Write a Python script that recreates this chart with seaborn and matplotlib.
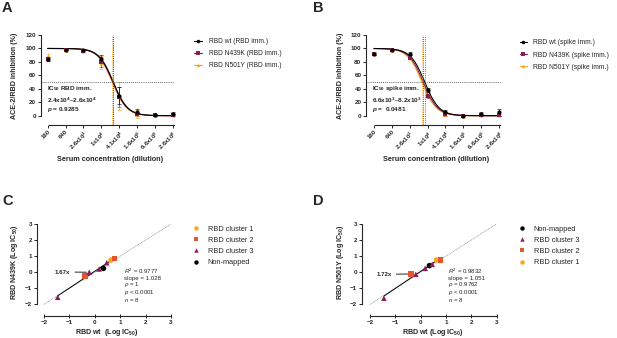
import numpy as np
import pandas as pd
import seaborn as sns
import matplotlib.pyplot as plt
from matplotlib.lines import Line2D

# === Panels A and B: serum dilution series ===
dilutions = [160, 640, 2560, 10240, 40960, 163840, 655360, 2621440]
dil_labels = ['160', '640', '2.6x10$^3$', '1x10$^4$', '4.1x10$^4$',
              '1.6x10$^5$', '6.6x10$^5$', '2.6x10$^6$']

a_wt = [85, 98, 97, 84, 30, 6, 1, 3]
a_wt_sd = [3, 1, 1, 6, 12, 4, 1, 2]
a_n439k = [84, 98, 96, 80, 28, 3, 1, 1]
a_n439k_sd = [3, 1, 1, 7, 15, 3, 1, 2]
a_n501y = [89, 98, 96, 79, 29, 3, 1, 1]
a_n501y_sd = [3, 1, 2, 10, 21, 6, 1, 2]

b_wt = [92, 98, 92, 38, 6, 0, 3, 5]
b_wt_sd = [2, 1, 2, 3, 2, 1, 2, 5]
b_n439k = [92, 98, 86, 30, 2, 0, 1, 1]
b_n439k_sd = [1, 1, 2, 4, 2, 1, 2, 1]
b_n501y = [92, 98, 88, 33, 2, 0, 1, 1]
b_n501y_sd = [1, 1, 2, 4, 2, 1, 2, 1]

# fitted IC50s (dilution) and hill slope
a_ic50 = {'wt': 2.6e4, 'N439K': 2.5e4, 'N501Y': 2.4e4}
b_ic50 = {'wt': 8.2e3, 'N439K': 7.3e3, 'N501Y': 6.6e3}
hill = 1.8

# === Panels C and D: log IC50 comparison ===
c_cluster = ['RBD cluster 3', 'RBD cluster 2', 'RBD cluster 3', 'RBD cluster 3',
             'Non-mapped', 'RBD cluster 3', 'RBD cluster 1', 'RBD cluster 2']
c_wt = [-1.46, -0.39, -0.22, 0.17, 0.34, 0.47, 0.64, 0.77]
c_n439k = [-1.56, -0.24, 0.0, 0.2, 0.24, 0.59, 0.76, 0.84]
d_wt = [-1.45, -0.39, -0.19, 0.18, 0.35, 0.46, 0.63, 0.79]
d_n501y = [-1.62, -0.11, -0.13, 0.24, 0.41, 0.49, 0.76, 0.76]

c_stats = ['$\\mathit{R}^{\\mathrm{2}}$ = 0.9777', 'slope = 1.028', '$\\mathit{\\rho}$ = 1',
           '$\\mathit{p}$ < 0.0001', '$\\mathit{n}$ = 8']
d_stats = ['$\\mathit{R}^{\\mathrm{2}}$ = 0.9832', 'slope = 1.051', '$\\mathit{\\rho}$ = 0.9762',
           '$\\mathit{p}$ < 0.0001', '$\\mathit{n}$ = 8']

# === Style ===
sns.set_style('ticks')
plt.rcParams['font.family'] = ['Liberation Sans', 'DejaVu Sans']
plt.rcParams['mathtext.fontset'] = 'custom'
plt.rcParams['mathtext.rm'] = 'Liberation Sans'
plt.rcParams['mathtext.it'] = 'Liberation Sans:italic'
plt.rcParams['mathtext.bf'] = 'Liberation Sans:bold'
plt.rcParams['mathtext.bfit'] = 'Liberation Sans:italic:bold'
plt.rcParams['mathtext.default'] = 'bf'
plt.rcParams['axes.linewidth'] = 0.8

col_wt = 'black'
col_439 = '#8C1D52'
col_501 = '#F5A623'
clus_pal = {'RBD cluster 1': '#F9A61B', 'RBD cluster 2': '#E4572E',
            'RBD cluster 3': '#8B1E5A', 'Non-mapped': 'black'}
clus_mark = {'RBD cluster 1': 'o', 'RBD cluster 2': 's',
             'RBD cluster 3': '^', 'Non-mapped': 'o'}

W, H = 617, 338
fig = plt.figure(figsize=(W / 100, H / 100), dpi=100)


def axes_px(left, right, top, bottom):
    return fig.add_axes([left / W, 1 - bottom / H, (right - left) / W, (bottom - top) / H])


def ftxt(px, py, s, **kw):
    fig.text(px / W, 1 - py / H, s, **kw)


STEP = 17.86  # px per 4-fold dilution


def dose_panel(pos0_px, lo, series, ic50s, legend, ic_lines, txt_px):
    left = pos0_px + lo * STEP
    right = pos0_px + 7.1 * STEP
    ax = axes_px(left, right, 35, 125)
    ax.set_xscale('log', base=4)
    x0, x1 = 160 * 4 ** lo, 160 * 4 ** 7.1
    ymin = -(125 - 115.7) / 0.6725
    ax.set_xlim(x0, x1)
    ax.set_ylim(ymin, 120)

    grid = np.logspace(np.log10(160), np.log10(2621440), 200)
    # draw orange first so the dark curves sit on top
    for name, vals, sd, color, marker in series[::-1]:
        fit = 100 / (1 + (grid / ic50s[name]) ** hill)
        sns.lineplot(x=grid, y=fit, color=color, lw=0.8, ax=ax)
        ax.errorbar(dilutions, vals, yerr=sd, fmt='none', ecolor=color,
                    elinewidth=0.6, capsize=1.2, capthick=0.6, alpha=0.7)
        sns.scatterplot(x=dilutions, y=vals, color=color, marker=marker, s=9,
                        linewidth=0, ax=ax, zorder=5)

    for name, color in [('N501Y', col_501), ('wt', '#555555'), ('N439K', col_439)]:
        ax.vlines(ic50s[name], ymin, 120, colors=color, linestyles=(0, (1, 1.2)), lw=0.7, alpha=0.85)
    ax.hlines(50, x0, 160 * 4 ** 7.05, colors='#333333', linestyles=(0, (1, 1.5)), lw=0.6)

    ax.spines[['top', 'right']].set_visible(False)
    ax.spines['left'].set_bounds(0, 120)
    ax.spines['bottom'].set_bounds(160 * 4 ** 0.05, 160 * 4 ** 7.05)
    ax.set_yticks(range(0, 121, 20))
    ax.set_xticks(dilutions)
    ax.xaxis.set_minor_locator(plt.NullLocator())
    ax.set_xticklabels(dil_labels, rotation=45, ha='right', va='top', rotation_mode='anchor',
                       fontsize=4.3, fontweight='bold')
    for t in ax.get_yticklabels():
        t.set_fontweight('bold')
        t.set_fontsize(4.5)
    ax.tick_params(axis='both', length=2.2, width=0.7, pad=1)
    ax.set_xlabel('')
    ax.set_ylabel('')

    handles = [Line2D([0], [0], color=c, marker=m, markersize=2.5, lw=0.8, markeredgewidth=0)
               for _, _, _, c, m in series]
    lx, ly, labels, fs, hl, htp = legend
    fig.legend(handles, labels, loc='upper left', frameon=False,
               bbox_to_anchor=(lx / W, 1 - ly / H),
               fontsize=fs, handlelength=hl, handletextpad=htp, labelspacing=0.75,
               borderpad=0, borderaxespad=0)

    tx, ty = txt_px
    for dy, s in zip([0, 12.3, 21], ic_lines):
        ftxt(tx, ty + dy, s, fontsize=4.6, fontweight='bold', va='center')
    return ax


a_series = [('wt', a_wt, a_wt_sd, col_wt, 'o'), ('N439K', a_n439k, a_n439k_sd, col_439, 's'),
            ('N501Y', a_n501y, a_n501y_sd, col_501, '^')]
b_series = [('wt', b_wt, b_wt_sd, col_wt, 'o'), ('N439K', b_n439k, b_n439k_sd, col_439, 's'),
            ('N501Y', b_n501y, b_n501y_sd, col_501, '^')]

dose_panel(47.7, -0.4, a_series, a_ic50,
           (194, 38, ['RBD wt (RBD imm.)', 'RBD N439K (RBD imm.)', 'RBD N501Y (RBD imm.)'], 4.8, 1.2, 1.0),
           ['IC$_{50}$ RBD imm.', '2.4x10$^{4}$–2.6x10$^{4}$', '$\\mathbfit{p}$ = 0.9285'],
           (46.5, 88.5))
dose_panel(374, -0.46, b_series, b_ic50,
           (520, 39.5, ['RBD wt (spike imm.)', 'RBD N439K (spike imm.)', 'RBD N501Y (spike imm.)'], 4.9, 1.0, 0.85),
           ['IC$_{50}$ spike imm.', '6.6x10$^{3}$–8.2x10$^{3}$', '$\\mathbfit{p}$ =  0.0481'],
           (371.5, 88.5))

ftxt(15, 76, 'ACE-2/RBD inhibition (%)', rotation=90, ha='center', va='center', fontsize=5.1, fontweight='bold')
ftxt(341, 76, 'ACE-2/RBD inhibition (%)', rotation=90, ha='center', va='center', fontsize=5.1, fontweight='bold')
ftxt(110.5, 159.3, 'Serum concentration (dilution)', ha='center', va='center', fontsize=5.2, fontweight='bold')
ftxt(436, 159.3, 'Serum concentration (dilution)', ha='center', va='center', fontsize=5.2, fontweight='bold')


def log_panel(neg2_px, unit_px, lo, x, y, stats, order, legend_px, fold, fold_pt, fold_px, stats_px):
    left = neg2_px + (lo + 2) * unit_px
    right = neg2_px + 5.04 * unit_px
    ax = axes_px(left, right, 223, 316)
    ax.set_xlim(lo, 3.04)
    ax.set_ylim(3 - (316 - 224) / 16.07, 3 + 1 / 16.07)
    df = pd.DataFrame({'x': x, 'y': y, 'cluster': c_cluster})
    ax.plot([-2, 3], [-2, 3], color='#888888', ls=(0, (1, 1)), lw=0.6, zorder=1)
    sns.regplot(data=df, x='x', y='y', scatter=False, ci=None, color='black',
                line_kws={'lw': 0.7}, ax=ax)
    sns.scatterplot(data=df, x='x', y='y', hue='cluster', style='cluster', hue_order=order,
                    style_order=order, palette=clus_pal, markers=clus_mark, s=16,
                    linewidth=0, ax=ax, zorder=5)
    sns.move_legend(ax, 'upper left', bbox_to_anchor=(legend_px[0] / W, 1 - legend_px[1] / H),
                    bbox_transform=fig.transFigure, title=None, frameon=False, fontsize=5.3,
                    handlelength=0.8, handletextpad=1.2, labelspacing=0.55, borderpad=0,
                    borderaxespad=0, markerscale=0.8)
    ax.spines[['top', 'right']].set_visible(False)
    ax.spines['left'].set_bounds(-2, 3)
    ax.spines['bottom'].set_bounds(-2, 3)
    ax.set_xticks(range(-2, 4))
    ax.set_yticks(range(-2, 4))
    for t in ax.get_xticklabels() + ax.get_yticklabels():
        t.set_fontweight('bold')
        t.set_fontsize(4.5)
    ax.tick_params(axis='y', length=2.2, width=0.7, pad=1)
    ax.tick_params(axis='x', direction='inout', length=3, width=0.7, pad=1.2)
    ax.set_xlabel('')
    ax.set_ylabel('')
    ax.annotate(fold, xy=fold_pt, xytext=(fold_px[0] / W, 1 - fold_px[1] / H),
                textcoords='figure fraction', fontsize=4.4, fontweight='bold',
                ha='left', va='center',
                arrowprops=dict(arrowstyle='-', lw=0.6, color='black', shrinkA=1, shrinkB=2))
    # one text block keeps the five stats lines tightly stacked
    ftxt(stats_px[0], stats_px[1], '\n'.join(stats), fontsize=4.4, va='top', linespacing=0.85)
    return ax


log_panel(44, 25.4, -2.29, c_wt, c_n439k, c_stats,
          ['RBD cluster 1', 'RBD cluster 2', 'RBD cluster 3', 'Non-mapped'],
          (193, 225.5), '1.67x', (-0.22, 0.0), (55, 272), (124, 267))
log_panel(370, 25.3, -2.33, d_wt, d_n501y, d_stats,
          ['Non-mapped', 'RBD cluster 3', 'RBD cluster 2', 'RBD cluster 1'],
          (519, 225.5), '1.72x', (-0.39, -0.11), (376.5, 274.3), (448, 267))

ftxt(15, 262, 'RBD N439K (Log IC$_{50}$)', rotation=90, ha='center', va='center', fontsize=5.1, fontweight='bold')
ftxt(340, 262, 'RBD N501Y (Log IC$_{50}$)', rotation=90, ha='center', va='center', fontsize=5.1, fontweight='bold')
ftxt(107, 332, 'RBD wt  (Log IC$_{50}$)', ha='center', va='center', fontsize=5.1, fontweight='bold')
ftxt(433, 332, 'RBD wt (Log IC$_{50}$)', ha='center', va='center', fontsize=5.1, fontweight='bold')

for letter, px, py in [('A', 2, 1), ('B', 313, 1), ('C', 2, 194), ('D', 313, 194)]:
    ftxt(px, py, letter, fontsize=10.5, fontweight='bold', va='top', ha='left')

fig.savefig('out.png', dpi=100)
